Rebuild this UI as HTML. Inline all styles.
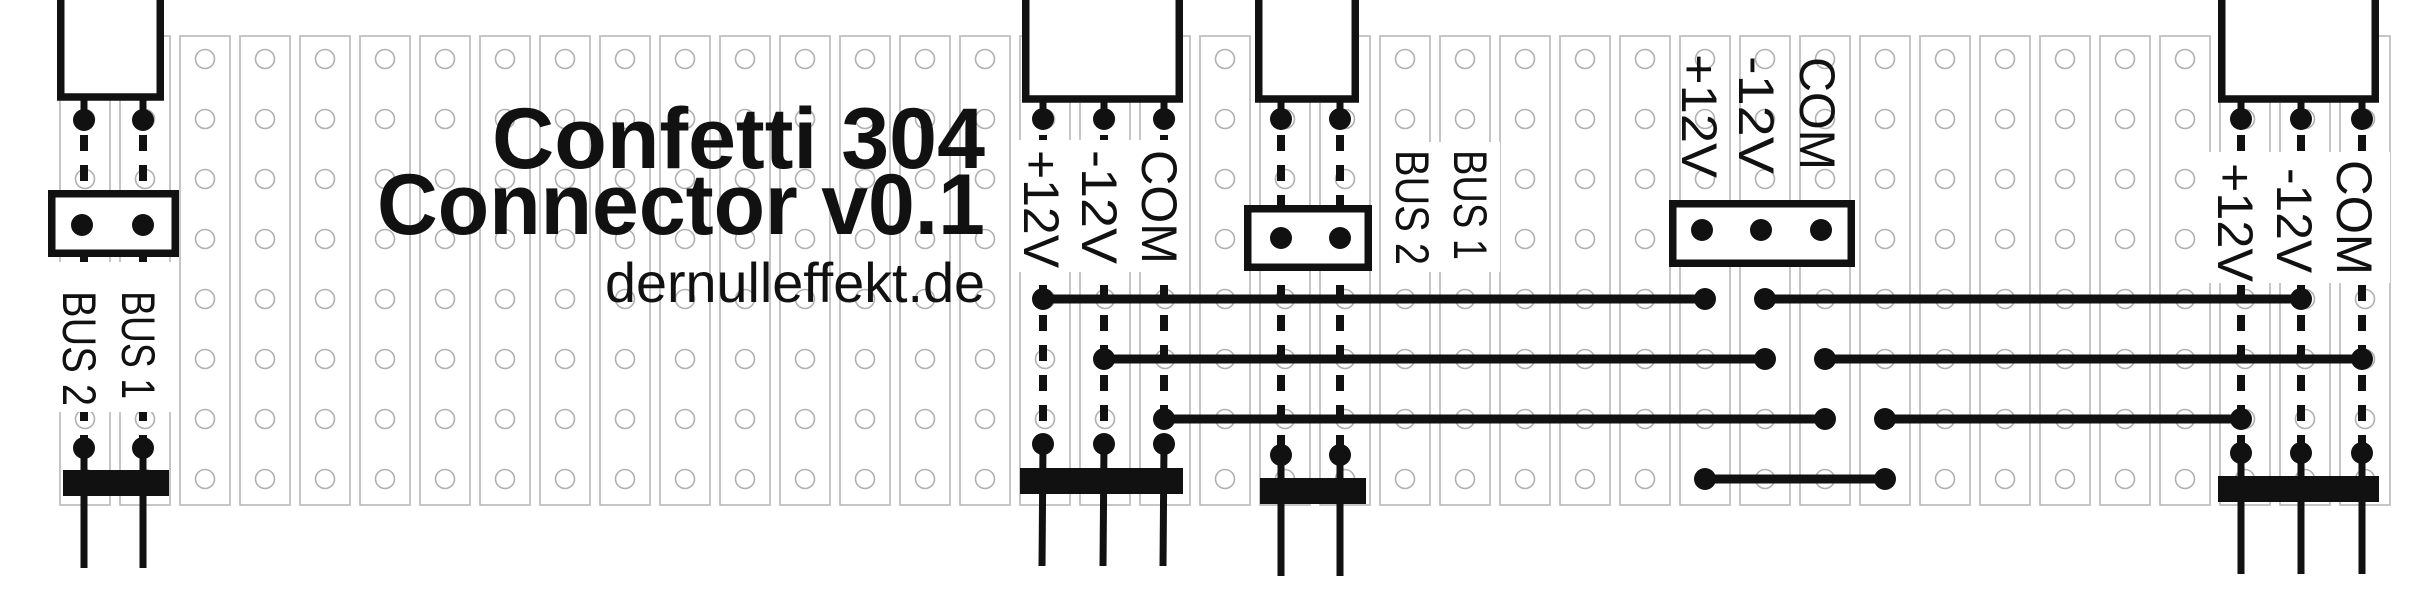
<!DOCTYPE html>
<html><head><meta charset="utf-8"><style>html,body{margin:0;padding:0;background:#fff}svg{display:block}</style></head>
<body>
<svg width="2413" height="605" viewBox="0 0 2413 605" xmlns="http://www.w3.org/2000/svg">
<rect width="2413" height="605" fill="#fff"/>
<g fill="none" stroke="#b8b8bb" stroke-width="1.6">
<rect x="60" y="36" width="50" height="469"/><rect x="120" y="36" width="50" height="469"/><rect x="180" y="36" width="50" height="469"/><rect x="240" y="36" width="50" height="469"/><rect x="300" y="36" width="50" height="469"/><rect x="360" y="36" width="50" height="469"/><rect x="420" y="36" width="50" height="469"/><rect x="480" y="36" width="50" height="469"/><rect x="540" y="36" width="50" height="469"/><rect x="600" y="36" width="50" height="469"/><rect x="660" y="36" width="50" height="469"/><rect x="720" y="36" width="50" height="469"/><rect x="780" y="36" width="50" height="469"/><rect x="840" y="36" width="50" height="469"/><rect x="900" y="36" width="50" height="469"/><rect x="960" y="36" width="50" height="469"/><rect x="1020" y="36" width="50" height="469"/><rect x="1080" y="36" width="50" height="469"/><rect x="1140" y="36" width="50" height="469"/><rect x="1200" y="36" width="50" height="469"/><rect x="1260" y="36" width="50" height="469"/><rect x="1320" y="36" width="50" height="469"/><rect x="1380" y="36" width="50" height="469"/><rect x="1440" y="36" width="50" height="469"/><rect x="1500" y="36" width="50" height="469"/><rect x="1560" y="36" width="50" height="469"/><rect x="1620" y="36" width="50" height="469"/><rect x="1680" y="36" width="50" height="469"/><rect x="1740" y="36" width="50" height="469"/><rect x="1800" y="36" width="50" height="469"/><rect x="1860" y="36" width="50" height="469"/><rect x="1920" y="36" width="50" height="469"/><rect x="1980" y="36" width="50" height="469"/><rect x="2040" y="36" width="50" height="469"/><rect x="2100" y="36" width="50" height="469"/><rect x="2160" y="36" width="50" height="469"/><rect x="2220" y="36" width="50" height="469"/><rect x="2280" y="36" width="50" height="469"/><rect x="2340" y="36" width="50" height="469"/>
</g>
<defs>
<g id="col"><circle cx="0" cy="59" r="9.5"/><circle cx="0" cy="119" r="9.5"/><circle cx="0" cy="179" r="9.5"/><circle cx="0" cy="239" r="9.5"/><circle cx="0" cy="299" r="9.5"/><circle cx="0" cy="359" r="9.5"/><circle cx="0" cy="419" r="9.5"/><circle cx="0" cy="479" r="9.5"/></g>
</defs>
<g fill="#fff" stroke="#b0b0b3" stroke-width="1.6">
<use href="#col" x="85"/><use href="#col" x="145"/><use href="#col" x="205"/><use href="#col" x="265"/><use href="#col" x="325"/><use href="#col" x="385"/><use href="#col" x="445"/><use href="#col" x="505"/><use href="#col" x="565"/><use href="#col" x="625"/><use href="#col" x="685"/><use href="#col" x="745"/><use href="#col" x="805"/><use href="#col" x="865"/><use href="#col" x="925"/><use href="#col" x="985"/><use href="#col" x="1045"/><use href="#col" x="1105"/><use href="#col" x="1165"/><use href="#col" x="1225"/><use href="#col" x="1285"/><use href="#col" x="1345"/><use href="#col" x="1405"/><use href="#col" x="1465"/><use href="#col" x="1525"/><use href="#col" x="1585"/><use href="#col" x="1645"/><use href="#col" x="1705"/><use href="#col" x="1765"/><use href="#col" x="1825"/><use href="#col" x="1885"/><use href="#col" x="1945"/><use href="#col" x="2005"/><use href="#col" x="2065"/><use href="#col" x="2125"/><use href="#col" x="2185"/><use href="#col" x="2245"/><use href="#col" x="2305"/><use href="#col" x="2365"/>
</g>

<g fill="#111" font-family="Liberation Sans, sans-serif">
<text x="492" y="168" font-size="86" font-weight="bold" textLength="493" lengthAdjust="spacingAndGlyphs">Confetti 304</text>
<text x="377" y="234" font-size="86" font-weight="bold" textLength="608" lengthAdjust="spacingAndGlyphs">Connector v0.1</text>
<text x="605" y="302" font-size="56" textLength="380" lengthAdjust="spacingAndGlyphs">dernulleffekt.de</text>
</g>

<g stroke="#111" stroke-width="8" stroke-dasharray="16 14" fill="none">
<line x1="84" y1="135" x2="84" y2="445"/><line x1="143" y1="135" x2="143" y2="445"/>
<line x1="1043" y1="135" x2="1043" y2="440"/><line x1="1104" y1="135" x2="1104" y2="440"/><line x1="1164" y1="135" x2="1164" y2="440"/>
<line x1="1281" y1="135" x2="1281" y2="452"/><line x1="1340" y1="135" x2="1340" y2="452"/>
<line x1="2241" y1="135" x2="2241" y2="450"/><line x1="2301" y1="135" x2="2301" y2="450"/><line x1="2362" y1="135" x2="2362" y2="450"/>
</g>

<g fill="#fff">
<rect x="58" y="262" width="114" height="150"/>
<rect x="1018" y="140" width="170" height="132"/>
<rect x="1388" y="142" width="112" height="130"/>
<rect x="2208" y="152" width="182" height="131"/>
</g>

<g stroke="#111" stroke-width="9" stroke-linecap="round">
<line x1="1043" y1="299" x2="1705" y2="299"/>
<line x1="1104" y1="359" x2="1765" y2="359"/>
<line x1="1164" y1="419" x2="1825" y2="419"/>
<line x1="1765" y1="299" x2="2301" y2="299"/>
<line x1="1825" y1="359" x2="2362" y2="359"/>
<line x1="1885" y1="419" x2="2241" y2="419"/>
<line x1="1705" y1="479" x2="1885" y2="479"/>
</g>
<g fill="#111">
<circle cx="1043" cy="299" r="11"/><circle cx="1705" cy="299" r="11"/>
<circle cx="1104" cy="359" r="11"/><circle cx="1765" cy="359" r="11"/>
<circle cx="1164" cy="419" r="11"/><circle cx="1825" cy="419" r="11"/>
<circle cx="1765" cy="299" r="11"/><circle cx="2301" cy="299" r="11"/>
<circle cx="1825" cy="359" r="11"/><circle cx="2362" cy="359" r="11"/>
<circle cx="1885" cy="419" r="11"/><circle cx="2241" cy="419" r="11"/>
<circle cx="1705" cy="479" r="11"/><circle cx="1885" cy="479" r="11"/>
</g>

<g fill="#fff" stroke="#111" stroke-width="7.5">
<rect x="60.75" y="-6" width="99.5" height="103"/>
<rect x="1025.75" y="-6" width="153.5" height="105"/>
<rect x="1258.75" y="-6" width="96.5" height="105"/>
<rect x="2221.75" y="-6" width="153.5" height="105"/>
<rect x="51.75" y="193.75" width="123.5" height="59.5"/>
<rect x="1247.75" y="208.75" width="120.5" height="58.5"/>
<rect x="1672.75" y="203.75" width="178.5" height="59.5"/>
</g>

<g stroke="#111" stroke-width="7">
<line x1="84" y1="97" x2="84" y2="120"/><line x1="143" y1="97" x2="143" y2="120"/>
<line x1="1043" y1="99" x2="1043" y2="119"/><line x1="1104" y1="99" x2="1104" y2="119"/><line x1="1164" y1="99" x2="1164" y2="119"/>
<line x1="1281" y1="99" x2="1281" y2="119"/><line x1="1340" y1="99" x2="1340" y2="119"/>
<line x1="2241" y1="99" x2="2241" y2="119"/><line x1="2301" y1="99" x2="2301" y2="119"/><line x1="2362" y1="99" x2="2362" y2="119"/>
<line x1="84" y1="448" x2="84" y2="568"/><line x1="143" y1="448" x2="143" y2="568"/>
<line x1="1043" y1="444" x2="1042" y2="566"/><line x1="1104" y1="444" x2="1103" y2="566"/><line x1="1164" y1="444" x2="1163" y2="566"/>
<line x1="1281" y1="455" x2="1281" y2="576"/><line x1="1340" y1="455" x2="1340" y2="576"/>
<line x1="2241" y1="453" x2="2241" y2="574"/><line x1="2301" y1="453" x2="2301" y2="574"/><line x1="2362" y1="453" x2="2362" y2="574"/>
</g>
<g fill="#111">
<circle cx="84" cy="120" r="11"/><circle cx="143" cy="120" r="11"/>
<circle cx="1043" cy="119" r="11"/><circle cx="1104" cy="119" r="11"/><circle cx="1164" cy="119" r="11"/>
<circle cx="1281" cy="119" r="11"/><circle cx="1340" cy="119" r="11"/>
<circle cx="2241" cy="119" r="11"/><circle cx="2301" cy="119" r="11"/><circle cx="2362" cy="119" r="11"/>
<circle cx="82" cy="225" r="11"/><circle cx="143" cy="225" r="11"/>
<circle cx="1281" cy="238" r="11"/><circle cx="1340" cy="238" r="11"/>
<circle cx="1702" cy="230" r="11"/><circle cx="1761" cy="230" r="11"/><circle cx="1821" cy="230" r="11"/>
<circle cx="84" cy="448" r="11"/><circle cx="143" cy="448" r="11"/>
<circle cx="1043" cy="444" r="11"/><circle cx="1104" cy="444" r="11"/><circle cx="1164" cy="444" r="11"/>
<circle cx="1281" cy="455" r="11"/><circle cx="1340" cy="455" r="11"/>
<circle cx="2241" cy="453" r="11"/><circle cx="2301" cy="453" r="11"/><circle cx="2362" cy="453" r="11"/>
<rect x="63" y="470" width="106" height="26"/>
<rect x="1020" y="468" width="163" height="26"/>
<rect x="1260" y="478" width="106" height="26"/>
<rect x="2218" y="476" width="161" height="26"/>
</g>

<g fill="#111" font-family="Liberation Sans, sans-serif" font-size="47">
<text transform="translate(63,291) rotate(90)" textLength="115" lengthAdjust="spacingAndGlyphs">BUS 2</text>
<text transform="translate(122,291) rotate(90)" textLength="108" lengthAdjust="spacingAndGlyphs">BUS 1</text>
<text transform="translate(1396,150) rotate(90)" textLength="115" lengthAdjust="spacingAndGlyphs">BUS 2</text>
<text transform="translate(1454,150) rotate(90)" textLength="110" lengthAdjust="spacingAndGlyphs">BUS 1</text>
</g>
<g fill="#111" font-family="Liberation Sans, sans-serif" font-size="50">
<text transform="translate(1024,150) rotate(90)" textLength="118" lengthAdjust="spacingAndGlyphs">+12V</text>
<text transform="translate(1082,150) rotate(90)" textLength="114" lengthAdjust="spacingAndGlyphs">-12V</text>
<text transform="translate(1142,150) rotate(90)" textLength="114" lengthAdjust="spacingAndGlyphs">COM</text>
<text transform="translate(1682,54) rotate(90)" textLength="124" lengthAdjust="spacingAndGlyphs">+12V</text>
<text transform="translate(1739,56) rotate(90)" textLength="118" lengthAdjust="spacingAndGlyphs">-12V</text>
<text transform="translate(1800,57) rotate(90)" textLength="113" lengthAdjust="spacingAndGlyphs">COM</text>
<text transform="translate(2218,163) rotate(90)" textLength="119" lengthAdjust="spacingAndGlyphs">+12V</text>
<text transform="translate(2277,168) rotate(90)" textLength="105" lengthAdjust="spacingAndGlyphs">-12V</text>
<text transform="translate(2337,160) rotate(90)" textLength="115" lengthAdjust="spacingAndGlyphs">COM</text>
</g>
</svg>
</body></html>
